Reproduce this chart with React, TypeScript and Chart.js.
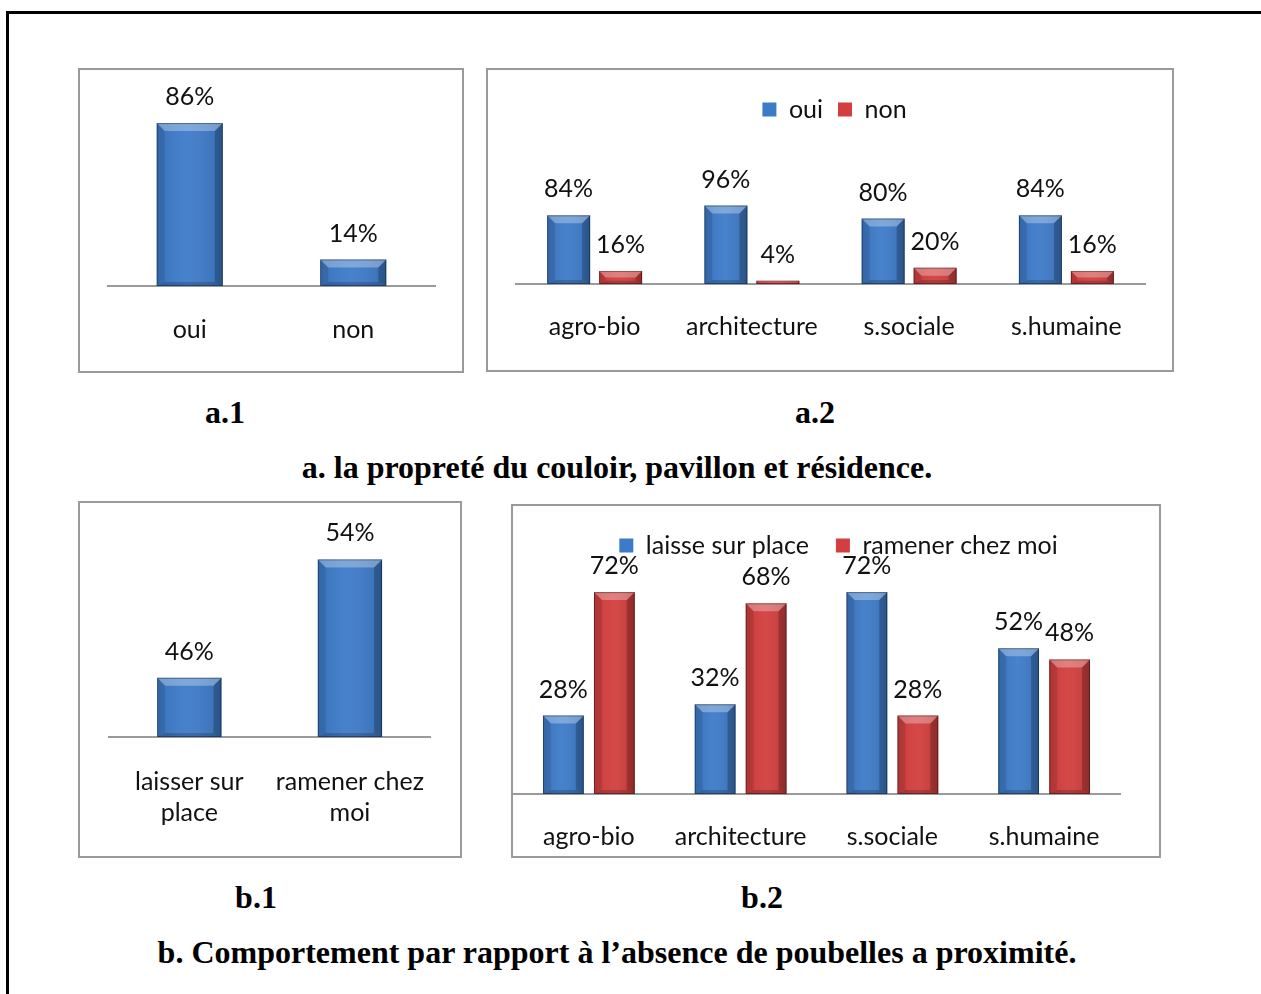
import React, { useEffect, useRef } from "react";
import { Chart, registerables } from "chart.js";

Chart.register(...registerables);

// ---------- data ----------
const a1Categories = ["oui", "non"];
const a1Values = [0.86, 0.14];

const a2Categories = ["agro-bio", "architecture", "s.sociale", "s.humaine"];
const a2Oui = [0.84, 0.96, 0.8, 0.84];
const a2Non = [0.16, 0.04, 0.2, 0.16];

const b1Categories = [["laisser sur", "place"], ["ramener chez", "moi"]];
const b1Values = [0.46, 0.54];

const b2Categories = ["agro-bio", "architecture", "s.sociale", "s.humaine"];
const b2Laisse = [0.28, 0.32, 0.72, 0.52];
const b2Ramener = [0.72, 0.68, 0.28, 0.48];

const BLUE = "#3d7bc9";
const RED = "#d33e3e";
const FONT = "Lato, 'Open Sans', sans-serif";
const FONT_SIZE = 25;

// ---------- plugins ----------
function poly(ctx: CanvasRenderingContext2D, pts: number[][], fill: string) {
  ctx.beginPath();
  ctx.moveTo(pts[0][0], pts[0][1]);
  for (let i = 1; i < pts.length; i++) ctx.lineTo(pts[i][0], pts[i][1]);
  ctx.closePath();
  ctx.fillStyle = fill;
  ctx.fill();
}

const barStylePlugin = {
  id: "barStyle",
  afterLayout(chart: any) {
    const shift = chart.options.plugins.barStyle?.legendShift || 0;
    if (chart.legend && shift) {
      chart.legend.left += shift;
      chart.legend.right += shift;
    }
  },
  afterDatasetsDraw(chart: any) {
    const ctx: CanvasRenderingContext2D = chart.ctx;
    const area = chart.chartArea;
    chart.data.datasets.forEach((ds: any, di: number) => {
      const meta = chart.getDatasetMeta(di);
      meta.data.forEach((el: any, i: number) => {
        const { x, y, base, width } = el.getProps(["x", "y", "base", "width"], true);
        const L = x - width / 2;
        const R = x + width / 2;
        const T = Math.max(area.top, Math.min(y, base));
        const B = Math.min(area.bottom, Math.max(y, base));
        const h = B - T;
        if (h <= 0) return;
        const b = Math.min(8, h / 2, width / 4);
        ctx.save();
        const g = ctx.createLinearGradient(L, 0, R, 0);
        g.addColorStop(0, "rgba(0,0,0,0.08)");
        g.addColorStop(0.45, "rgba(255,255,255,0.05)");
        g.addColorStop(1, "rgba(0,0,0,0.12)");
        ctx.fillStyle = g;
        ctx.fillRect(L, T, width, h);
        poly(ctx, [[L, T], [L + b, T + b], [L + b, B - b * 0.5], [L, B]], "rgba(0,0,0,0.10)");
        poly(ctx, [[R, T], [R - b, T + b], [R - b, B - b * 0.5], [R, B]], "rgba(0,0,0,0.22)");
        poly(ctx, [[L, T], [R, T], [R - b, T + b], [L + b, T + b]], "rgba(255,255,255,0.30)");
        poly(ctx, [[L, B], [R, B], [R - b, B - b * 0.5], [L + b, B - b * 0.5]], "rgba(0,0,0,0.18)");
        ctx.strokeStyle = "rgba(0,0,0,0.35)";
        ctx.lineWidth = 1;
        ctx.strokeRect(L + 0.5, T + 0.5, width - 1, h - 1);
        // value label
        const v = ds.data[i];
        ctx.fillStyle = "#111";
        ctx.font = `${FONT_SIZE}px ${FONT}`;
        ctx.textAlign = "center";
        ctx.textBaseline = "middle";
        ctx.fillText(`${Math.round(v * 100)}%`, x, T - 26);
        ctx.restore();
      });
    });
  },
};

// ---------- chart component ----------
type Box = { x: number; y: number; w: number; h: number };
interface Cfg {
  box: Box;
  labels: any[];
  datasets: { label: string; data: number[]; color: string }[];
  left: number;
  right: number;
  baseline: number;
  padTop: number;
  yMin: number;
  yMax: number;
  legendPadding?: number;
  legendShift?: number;
  catPct: number;
  barPct: number;
  tickPad: number;
}

function BarChart({ cfg }: { cfg: Cfg }) {
  const ref = useRef<HTMLCanvasElement>(null);
  const { box } = cfg;
  const ox = box.x + 2;
  const oy = box.y + 2;
  const cw = box.w - 4;
  const ch = box.h - 4;
  useEffect(() => {
    const chart = new Chart(ref.current as HTMLCanvasElement, {
      type: "bar",
      data: {
        labels: cfg.labels,
        datasets: cfg.datasets.map((d) => ({
          label: d.label,
          data: d.data,
          backgroundColor: d.color,
          borderWidth: 0,
          categoryPercentage: cfg.catPct,
          barPercentage: cfg.barPct,
        })),
      },
      options: {
        responsive: false,
        animation: false,
        devicePixelRatio: 1,
        layout: {
          padding: { left: cfg.left - ox, right: ox + cw - cfg.right, top: cfg.padTop, bottom: 0 },
        },
        plugins: {
          barStyle: { legendShift: cfg.legendShift || 0 },
          legend:
            cfg.legendPadding !== undefined
              ? {
                  display: true,
                  position: "top",
                  labels: {
                    font: { family: FONT, size: FONT_SIZE },
                    color: "#111",
                    boxWidth: 14,
                    boxHeight: 14,
                    padding: cfg.legendPadding,
                  },
                }
              : { display: false },
          tooltip: { enabled: false },
        },
        scales: {
          x: {
            grid: { display: false, drawTicks: false },
            border: { display: true, color: "#9a9a9a", width: 2 },
            ticks: {
              font: { family: FONT, size: FONT_SIZE, lineHeight: 1.25 },
              color: "#111",
              padding: cfg.tickPad,
              maxRotation: 0,
              autoSkip: false,
            },
            afterFit: (s: any) => {
              s.height = oy + ch - cfg.baseline;
            },
          },
          y: { display: false, min: cfg.yMin, max: cfg.yMax },
        },
      } as any,
      plugins: [barStylePlugin],
    });
    return () => chart.destroy();
  }, []);
  return (
    <div
      style={{
        position: "absolute",
        left: box.x,
        top: box.y,
        width: box.w,
        height: box.h,
        boxSizing: "border-box",
        border: "2px solid #9a9a9a",
        background: "#fff",
      }}
    >
      <canvas ref={ref} width={cw} height={ch} style={{ display: "block", width: cw, height: ch }} />
    </div>
  );
}

const a1Cfg: Cfg = {
  box: { x: 78, y: 68, w: 386, h: 305 },
  labels: a1Categories,
  datasets: [{ label: "a.1", data: a1Values, color: BLUE }],
  left: 108,
  right: 435,
  baseline: 286,
  padTop: 26.5,
  yMin: 0,
  yMax: 1,
  catPct: 1,
  barPct: 0.404,
  tickPad: 28,
};

const a2Cfg: Cfg = {
  box: { x: 486, y: 68, w: 688, h: 304 },
  labels: a2Categories,
  datasets: [
    { label: "oui", data: a2Oui, color: BLUE },
    { label: "non", data: a2Non, color: RED },
  ],
  left: 516,
  right: 1145,
  baseline: 284,
  padTop: 12,
  legendPadding: 15,
  legendShift: 4,
  yMin: 0,
  yMax: 1.86,
  catPct: 0.661,
  barPct: 0.827,
  tickPad: 27,
};

const b1Cfg: Cfg = {
  box: { x: 78, y: 501, w: 384, h: 357 },
  labels: b1Categories,
  datasets: [{ label: "b.1", data: b1Values, color: BLUE }],
  left: 109,
  right: 432,
  baseline: 737,
  padTop: 26.8,
  yMin: 0.42,
  yMax: 0.56,
  catPct: 1,
  barPct: 0.4,
  tickPad: 29,
};

const b2Cfg: Cfg = {
  box: { x: 511, y: 504, w: 650, h: 354 },
  labels: b2Categories,
  datasets: [
    { label: "laisse sur place", data: b2Laisse, color: BLUE },
    { label: "ramener chez moi", data: b2Ramener, color: RED },
  ],
  left: 513,
  right: 1120,
  baseline: 794,
  padTop: 0,
  legendPadding: 27,
  legendShift: 22,
  yMin: 0,
  yMax: 0.806,
  catPct: 0.672,
  barPct: 0.8,
  tickPad: 27,
};

const titleStyle = (x: number, y: number): React.CSSProperties => ({
  position: "absolute",
  left: x,
  top: y,
  transform: "translate(-50%, -50%)",
  fontFamily: "'Liberation Serif', 'Times New Roman', serif",
  fontWeight: "bold",
  fontSize: 32,
  color: "#000",
  whiteSpace: "nowrap",
  lineHeight: 1,
});

export default function App() {
  return (
    <div>
      <div
        style={{
          position: "absolute",
          left: 6,
          top: 11,
          width: 1255,
          height: 983,
          boxSizing: "border-box",
          borderLeft: "3px solid #000",
          borderTop: "3px solid #000",
        }}
      />
      <BarChart cfg={a1Cfg} />
      <BarChart cfg={a2Cfg} />
      <BarChart cfg={b1Cfg} />
      <BarChart cfg={b2Cfg} />
      <div style={titleStyle(225, 412)}>a.1</div>
      <div style={titleStyle(815, 412)}>a.2</div>
      <div style={titleStyle(617, 467)}>a. la propreté du couloir, pavillon et résidence.</div>
      <div style={titleStyle(256, 897)}>b.1</div>
      <div style={titleStyle(762, 897)}>b.2</div>
      <div style={titleStyle(617, 952)}>b. Comportement par rapport à l’absence de poubelles a proximité.</div>
    </div>
  );
}
